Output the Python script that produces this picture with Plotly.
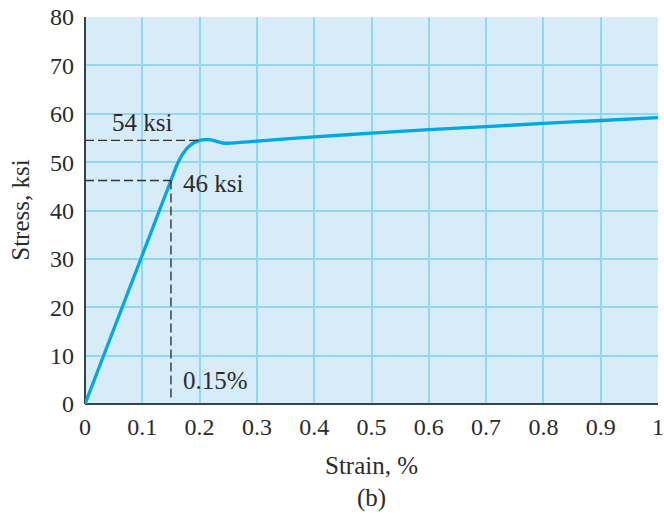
import plotly.graph_objects as go

strain = [0.0, 0.10, 0.15, 0.16, 0.17, 0.18, 0.19, 0.20, 0.21, 0.22, 0.23, 0.24, 0.25,
          0.30, 0.40, 0.50, 0.60, 0.70, 0.80, 0.90, 1.00]
stress = [0.0, 30.8, 46.2, 49.3, 51.6, 53.1, 54.0, 54.5, 54.65, 54.6, 54.3, 53.95, 53.9,
          54.35, 55.2, 56.0, 56.7, 57.35, 58.0, 58.6, 59.2]

yield_strain = 0.15
yield_stress = 46.2
upper_strain = 0.20
upper_stress = 54.5

x_ticks = [0, 0.1, 0.2, 0.3, 0.4, 0.5, 0.6, 0.7, 0.8, 0.9, 1]
x_labels = ["0", "0.1", "0.2", "0.3", "0.4", "0.5", "0.6", "0.7", "0.8", "0.9", "1"]
y_ticks = [0, 10, 20, 30, 40, 50, 60, 70, 80]

FONT = "Liberation Serif"
TXT = "#2b2b2b"
GRID = "#8fd8f6"
SZ = 24
ASZ = 25

fig = go.Figure()
fig.add_trace(go.Scatter(x=strain, y=stress, mode="lines",
                         line=dict(color="#00a8e6", width=3.3, shape="spline", smoothing=0.6),
                         showlegend=False, hoverinfo="skip"))
dash = dict(color="#333333", width=1.4, dash="9px,4px")
fig.add_trace(go.Scatter(x=[0, upper_strain], y=[upper_stress, upper_stress], mode="lines",
                         line=dash, showlegend=False, hoverinfo="skip"))
fig.add_trace(go.Scatter(x=[0, yield_strain], y=[yield_stress, yield_stress], mode="lines",
                         line=dash, showlegend=False, hoverinfo="skip"))
fig.add_trace(go.Scatter(x=[yield_strain, yield_strain], y=[yield_stress, 1.2], mode="lines",
                         line=dash, showlegend=False, hoverinfo="skip"))

ann_font = dict(family=FONT, size=ASZ, color=TXT)
fig.add_annotation(x=0.1, y=58.2, text="54 ksi", showarrow=False, font=ann_font)
fig.add_annotation(x=0.224, y=45.5, text="46 ksi", showarrow=False, font=ann_font)
fig.add_annotation(x=0.228, y=4.8, text="0.15%", showarrow=False, font=ann_font)
fig.add_annotation(x=0.5, y=-0.158, xref="paper", yref="paper", text="Strain, %",
                   showarrow=False, xanchor="center", yanchor="middle", font=ann_font)
fig.add_annotation(x=0.5, y=-0.243, xref="paper", yref="paper", text="(b)",
                   showarrow=False, xanchor="center", yanchor="middle", font=ann_font)
fig.add_annotation(x=-0.113, y=0.5, xref="paper", yref="paper", text="Stress, ksi",
                   showarrow=False, xanchor="center", yanchor="middle",
                   textangle=-90, font=ann_font)

fig.update_layout(
    width=664, height=516,
    margin=dict(l=85, r=6, t=17, b=112),
    paper_bgcolor="white", plot_bgcolor="#d6ecf9",
    font=dict(family=FONT, size=SZ, color=TXT),
    xaxis=dict(range=[0, 1], tickvals=x_ticks, ticktext=x_labels, automargin=False,
               showgrid=True, gridcolor=GRID, gridwidth=1.5,
               zeroline=True, zerolinecolor="#34444f", zerolinewidth=2,
               showline=False, ticks="", ticklabelstandoff=6,
               ticklabeloverflow="allow", tickfont=dict(size=SZ)),
    yaxis=dict(range=[0, 80], tickvals=y_ticks, automargin=False,
               showgrid=True, gridcolor=GRID, gridwidth=1.5,
               zeroline=True, zerolinecolor="#34444f", zerolinewidth=2,
               showline=False, ticks="", ticklabelstandoff=10,
               ticklabeloverflow="allow", tickfont=dict(size=SZ)),
)

fig.write_html("out.html", config={"displayModeBar": False},
               post_script="document.body.style.margin='0px';")
